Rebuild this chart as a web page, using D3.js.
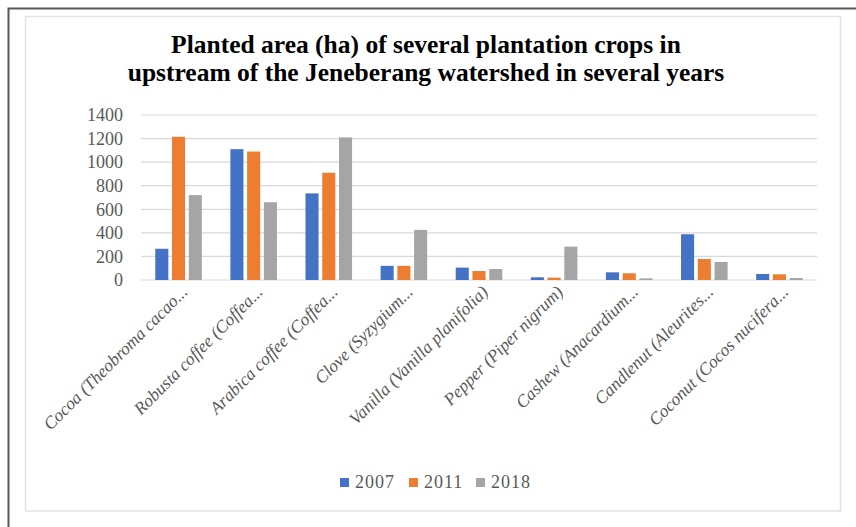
<!DOCTYPE html>
<html>
<head>
<meta charset="utf-8">
<script src="https://cdn.jsdelivr.net/npm/d3@7"></script>
<style>
  body { margin: 0; background: #fff; }
  text { font-family: "Liberation Serif", "DejaVu Serif", serif; }
</style>
</head>
<body>
<svg width="856" height="527"></svg>
<script>
// data
const crops = [
  'Cocoa (Theobroma cacao...',
  'Robusta coffee (Coffea...',
  'Arabica coffee (Coffea...',
  'Clove (Syzygium...',
  'Vanilla (Vanilla planifolia)',
  'Pepper (Piper nigrum)',
  'Cashew (Anacardium...',
  'Candlenut (Aleurites...',
  'Coconut (Cocos nucifera...'
];
const years = ['2007', '2011', '2018'];
const area2007 = [265, 1110, 735, 120, 105, 23, 65, 388, 51];
const area2011 = [1215, 1090, 910, 120, 76, 20, 57, 178, 48];
const area2018 = [720, 660, 1210, 425, 93, 283, 14, 153, 17];
const yTicks = [0, 200, 400, 600, 800, 1000, 1200, 1400];
const titleLines = [
  'Planted area (ha) of several plantation crops in',
  'upstream of the Jeneberang watershed in several years'
];

const series = [area2007, area2011, area2018];
const colors = ['#4472C4', '#ED7D31', '#A5A5A5'];

const svg = d3.select('svg');

// frames
svg.append('path')
  .attr('d', 'M8.5,527 L8.5,8.5 L856,8.5')
  .attr('fill', 'none')
  .attr('stroke', '#595959')
  .attr('stroke-width', 2);

svg.append('rect')
  .attr('x', 25.5).attr('y', 16.5)
  .attr('width', 815).attr('height', 494.5)
  .attr('fill', '#fff')
  .attr('stroke', '#e3e3e3')
  .attr('stroke-width', 1.5);

// title
svg.append('g').selectAll('text')
  .data(titleLines)
  .join('text')
  .attr('x', 426)
  .attr('y', (d, i) => 53 + i * 28)
  .attr('text-anchor', 'middle')
  .attr('font-size', 25.5)
  .attr('font-weight', 'bold')
  .attr('fill', '#000')
  .text(d => d);

const margin = { left: 141, right: 817, top: 115, bottom: 280 };

const x0 = d3.scaleBand()
  .domain(crops)
  .range([margin.left, margin.right])
  .paddingInner(0.38)
  .paddingOuter(0.19);

const x1 = d3.scaleBand()
  .domain(years)
  .range([0, x0.bandwidth()])
  .paddingInner(0.22);

const y = d3.scaleLinear()
  .domain([0, 1400])
  .range([margin.bottom, margin.top]);

// gridlines
svg.append('g').selectAll('line')
  .data(yTicks)
  .join('line')
  .attr('x1', margin.left)
  .attr('x2', margin.right)
  .attr('y1', d => y(d))
  .attr('y2', d => y(d))
  .attr('stroke', '#d9d9d9')
  .attr('stroke-width', 1.2);

// y axis
const yAxis = svg.append('g')
  .attr('transform', `translate(${margin.left - 18},0)`)
  .call(d3.axisLeft(y).tickValues(yTicks).tickFormat(d3.format('d')).tickSize(0).tickPadding(0));
yAxis.select('.domain').remove();
yAxis.selectAll('text')
  .attr('font-family', '"Liberation Serif", serif')
  .attr('font-size', 18)
  .attr('fill', '#595959');

// bars
const groups = svg.append('g').selectAll('g')
  .data(crops)
  .join('g')
  .attr('transform', d => `translate(${x0(d)},0)`);

groups.selectAll('rect')
  .data((d, i) => years.map((yr, j) => ({ yr, v: series[j][i], j })))
  .join('rect')
  .attr('x', d => x1(d.yr))
  .attr('y', d => y(d.v))
  .attr('width', x1.bandwidth())
  .attr('height', d => y(0) - y(d.v))
  .attr('fill', d => colors[d.j]);

// x labels
const xCenter = d => x0(d) + x0.bandwidth() / 2;
svg.append('g').selectAll('text')
  .data(crops)
  .join('text')
  .attr('transform', d => `translate(${xCenter(d) + 10},${293}) rotate(-45)`)
  .attr('text-anchor', 'end')
  .attr('font-size', 17.5)
  .attr('font-style', 'italic')
  .attr('fill', '#595959')
  .text(d => d);

// legend
const legendX = [340, 409, 476];
const legend = svg.append('g').selectAll('g')
  .data(years)
  .join('g')
  .attr('transform', (d, i) => `translate(${legendX[i]},478)`);
legend.append('rect')
  .attr('width', 9).attr('height', 9)
  .attr('fill', (d, i) => colors[i]);
legend.append('text')
  .attr('x', 15)
  .attr('y', 10)
  .attr('font-size', 18)
  .attr('fill', '#595959')
  .attr('letter-spacing', 1)
  .text(d => d);
</script>
</body>
</html>
